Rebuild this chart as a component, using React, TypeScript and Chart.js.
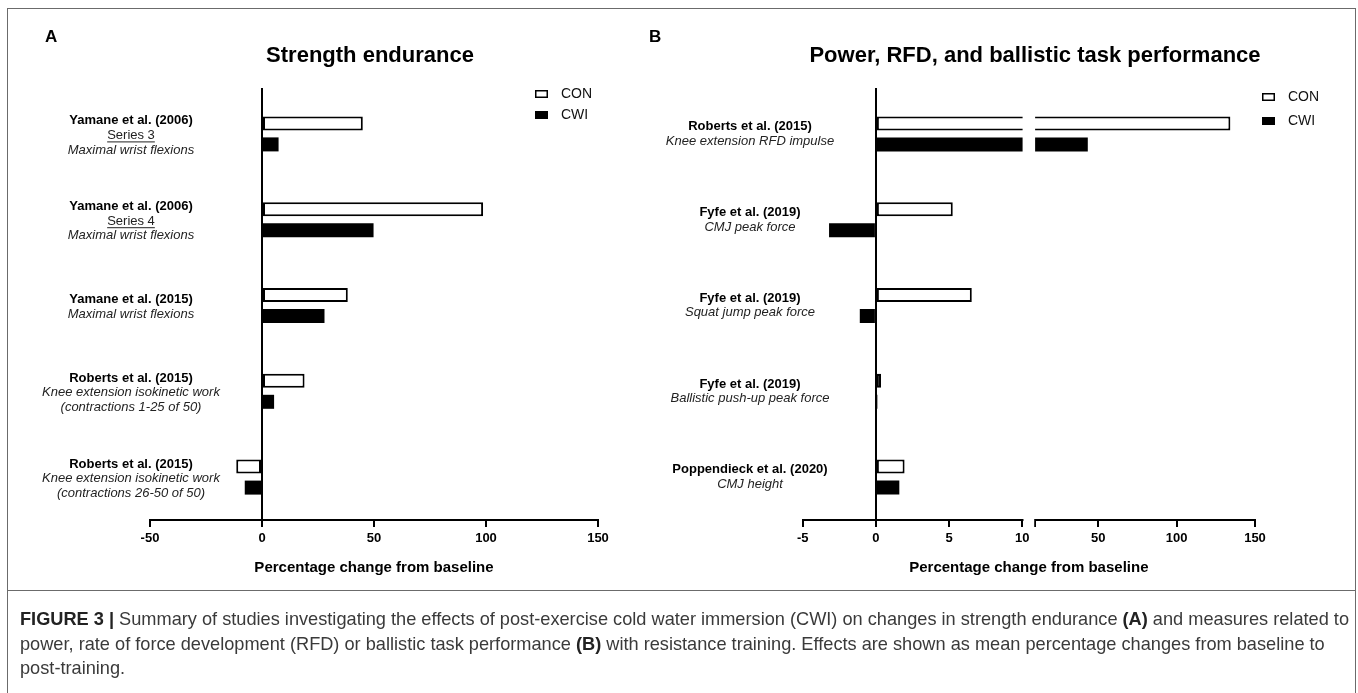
import React, { useEffect, useRef } from "react";
import { Chart, registerables, LinearScale } from "chart.js";

Chart.register(...registerables);

// ---------------- data ----------------
const seriesNames = ["CON", "CWI"];

type Line = { t: string; s: "b" | "u" | "i" };

const categoriesA: Line[][] = [
  [{ t: "Yamane et al. (2006)", s: "b" }, { t: "Series 3", s: "u" }, { t: "Maximal wrist flexions", s: "i" }],
  [{ t: "Yamane et al. (2006)", s: "b" }, { t: "Series 4", s: "u" }, { t: "Maximal wrist flexions", s: "i" }],
  [{ t: "Yamane et al. (2015)", s: "b" }, { t: "Maximal wrist flexions", s: "i" }],
  [{ t: "Roberts et al. (2015)", s: "b" }, { t: "Knee extension isokinetic work", s: "i" }, { t: "(contractions 1-25 of 50)", s: "i" }],
  [{ t: "Roberts et al. (2015)", s: "b" }, { t: "Knee extension isokinetic work", s: "i" }, { t: "(contractions 26-50 of 50)", s: "i" }],
];
const conA = [45.0, 98.7, 38.3, 19.0, -11.5];
const cwiA = [7.4, 49.8, 27.9, 5.4, -7.7];
const ticksA = [-50, 0, 50, 100, 150];

const categoriesB: Line[][] = [
  [{ t: "Roberts et al. (2015)", s: "b" }, { t: "Knee extension RFD impulse", s: "i" }],
  [{ t: "Fyfe et al. (2019)", s: "b" }, { t: "CMJ peak force", s: "i" }],
  [{ t: "Fyfe et al. (2019)", s: "b" }, { t: "Squat jump peak force", s: "i" }],
  [{ t: "Fyfe et al. (2019)", s: "b" }, { t: "Ballistic push-up peak force", s: "i" }],
  [{ t: "Poppendieck et al. (2020)", s: "b" }, { t: "CMJ height", s: "i" }],
];
const conB = [134.3, 5.25, 6.55, 0.35, 1.96];
const cwiB = [43.4, -3.2, -1.1, 0.1, 1.6];
const ticksB = [-5, 0, 5, 10, 50, 100, 150];
// broken axis: segment 1 runs -5..10, segment 2 restarts at 10 and runs to 150
const segment1 = [-5, 10];
const segment2 = [10, 150];
const BREAK_START = 10.000001;

const FONT = '"Liberation Sans", Arial, Helvetica, sans-serif';

// fraction of the axis width at which segment 1 ends and segment 2 starts
const F1 = 0.4855;
const F2 = 0.5145;

class BrokenScale extends LinearScale {
  static id = "broken";
  static defaults = LinearScale.defaults;
  getPixelForValue(value: number) {
    if (value === null || value === undefined || isNaN(value)) return NaN;
    let dec: number;
    if (value <= segment1[1]) dec = ((value - segment1[0]) / (segment1[1] - segment1[0])) * F1;
    else dec = F2 + ((value - segment2[0]) / (segment2[1] - segment2[0])) * (1 - F2);
    return (this as any).getPixelForDecimal(dec);
  }
  getValueForPixel(pixel: number) {
    const dec = (this as any).getDecimalForPixel(pixel);
    if (dec <= F1) return segment1[0] + (dec / F1) * (segment1[1] - segment1[0]);
    return segment2[0] + ((dec - F2) / (1 - F2)) * (segment2[1] - segment2[0]);
  }
  buildTicks() {
    const vals = [...ticksB, BREAK_START].sort((a, b) => a - b);
    return vals.map((v) => ({ value: v }));
  }
}
Chart.register(BrokenScale as any);

type PanelCfg = {
  letter: string;
  letterX: number;
  letterY: number;
  title: string;
  titleX: number;
  titleY: number;
  titleSize: number;
  labelX: number;
  labelDy: number;
  legendX: number;
  legendY: number;
  legendGap: number;
  cats: Line[][];
  broken: boolean;
};

function decorPlugin(cfg: PanelCfg) {
  return {
    id: "decor" + cfg.letter,
    afterDatasetsDraw(chart: any) {
      if (!cfg.broken) return;
      const ctx = chart.ctx;
      const xs = chart.scales.x;
      const a = xs.getPixelForValue(segment1[1]);
      const b = xs.getPixelForValue(BREAK_START);
      const area = chart.chartArea;
      ctx.save();
      ctx.fillStyle = "#fff";
      ctx.fillRect(a + 0.3, area.top, b - a - 0.6, area.bottom - area.top - 1.5);
      ctx.fillRect(a + 1.2, area.bottom - 2, b - a - 2.4, 12);
      ctx.restore();
    },
    afterDraw(chart: any) {
      const ctx = chart.ctx;
      const area = chart.chartArea;
      const ys = chart.scales.y;
      const xs = chart.scales.x;
      ctx.save();
      // y axis continues a little above the plotting area
      ctx.fillStyle = "#000";
      const x0 = Math.round(xs.getPixelForValue(0));
      ctx.fillRect(x0 - 1, area.top - 3, 2, 4);
      ctx.textBaseline = "middle";
      // panel letter
      ctx.font = `bold 17px ${FONT}`;
      ctx.textAlign = "left";
      ctx.fillText(cfg.letter, cfg.letterX, cfg.letterY);
      // title
      ctx.font = `bold ${cfg.titleSize}px ${FONT}`;
      ctx.textAlign = "center";
      ctx.fillText(cfg.title, cfg.titleX, cfg.titleY);
      // axis title
      ctx.font = `bold 15px ${FONT}`;
      ctx.fillText("Percentage change from baseline", (area.left + area.right) / 2, area.bottom + 48);
      // category labels
      const lh = 14.5;
      cfg.cats.forEach((lines, i) => {
        const yc = ys.getPixelForValue(i) + cfg.labelDy;
        const y0 = yc - ((lines.length - 1) * lh) / 2;
        lines.forEach((ln, k) => {
          const yy = y0 + k * lh;
          if (ln.s === "b") {
            ctx.font = `bold 13px ${FONT}`;
            ctx.fillStyle = "#000";
          } else if (ln.s === "i") {
            ctx.font = `italic 13px ${FONT}`;
            ctx.fillStyle = "#222";
          } else {
            ctx.font = `13px ${FONT}`;
            ctx.fillStyle = "#222";
          }
          ctx.fillText(ln.t, cfg.labelX, yy);
          if (ln.s === "u") {
            const w = ctx.measureText(ln.t).width;
            ctx.fillRect(cfg.labelX - w / 2, yy + 6, w, 1);
          }
        });
      });
      // legend
      ctx.textAlign = "left";
      ctx.font = `14px ${FONT}`;
      seriesNames.forEach((name, i) => {
        const ly = cfg.legendY + i * cfg.legendGap;
        if (i === 0) {
          ctx.fillStyle = "#fff";
          ctx.fillRect(cfg.legendX, ly - 4, 13, 8);
          ctx.strokeStyle = "#000";
          ctx.lineWidth = 1.5;
          ctx.strokeRect(cfg.legendX + 0.75, ly - 3.25, 11.5, 6.5);
        } else {
          ctx.fillStyle = "#000";
          ctx.fillRect(cfg.legendX, ly - 4, 13, 8);
        }
        ctx.fillStyle = "#111";
        ctx.fillText(name, cfg.legendX + 26, ly);
      });
      ctx.restore();
    },
  };
}

function makeConfig(
  cats: Line[][],
  con: number[],
  cwi: number[],
  xScale: any,
  padding: any,
  cfg: PanelCfg
) {
  return {
    type: "bar",
    data: {
      labels: cats.map((c) => c[0].t + " " + c[c.length - 1].t),
      datasets: [
        {
          label: seriesNames[0],
          data: con,
          backgroundColor: "#ffffff",
          borderColor: "#000000",
          borderWidth: 2,
          borderSkipped: false,
        },
        {
          label: seriesNames[1],
          data: cwi,
          backgroundColor: "#000000",
          borderColor: "#000000",
          borderWidth: 0,
          borderSkipped: false,
        },
      ],
    },
    options: {
      indexAxis: "y",
      animation: false,
      responsive: false,
      maintainAspectRatio: false,
      devicePixelRatio: 1,
      categoryPercentage: 0.4895,
      barPercentage: 0.667,
      layout: { padding },
      plugins: { legend: { display: false }, tooltip: { enabled: false }, title: { display: false } },
      scales: {
        x: xScale,
        y: {
          type: "category",
          position: { x: 0 },
          offset: true,
          ticks: { display: false },
          grid: { display: false },
          border: { display: true, color: "#000", width: 2 },
        },
      },
    },
    plugins: [decorPlugin(cfg)],
  };
}

const axisCommon = {
  grid: {
    display: true,
    drawOnChartArea: false,
    drawTicks: true,
    tickLength: 7,
    lineWidth: 2,
    color: "#000",
  },
  border: { display: true, color: "#000", width: 2 },
  afterFit: (s: any) => {
    s.height = 40;
  },
};

const H = 590;
const TOP = 91;

function Panel({ left, width, which }: { left: number; width: number; which: "A" | "B" }) {
  const ref = useRef<HTMLCanvasElement | null>(null);
  useEffect(() => {
    if (!ref.current) return;
    let config: any;
    const tickFont = { family: FONT, size: 13, weight: "bold" };
    if (which === "A") {
      const cfg: PanelCfg = {
        letter: "A", letterX: 45 - left, letterY: 37, title: "Strength endurance", titleX: 370 - left, titleY: 56, titleSize: 22,
        labelX: 131 - left, labelDy: 1.5, legendX: 535 - left, legendY: 94, legendGap: 21, cats: categoriesA, broken: false,
      };
      const xScale = {
        type: "linear",
        min: ticksA[0],
        max: ticksA[ticksA.length - 1],
        ...axisCommon,
        afterBuildTicks: (s: any) => {
          s.ticks = ticksA.map((v) => ({ value: v }));
        },
        ticks: { autoSkip: false, maxRotation: 0, padding: 4, color: "#000", font: tickFont },
      };
      config = makeConfig(categoriesA, conA, cwiA, xScale, { left: 150 - left, right: left + width - 598, top: TOP, bottom: H - 520 - 40 }, cfg);
    } else {
      const cfg: PanelCfg = {
        letter: "B", letterX: 649 - left, letterY: 37, title: "Power, RFD, and ballistic task performance", titleX: 1035 - left, titleY: 56, titleSize: 22,
        labelX: 750 - left, labelDy: 0, legendX: 1262 - left, legendY: 97, legendGap: 24, cats: categoriesB, broken: true,
      };
      const xScale = {
        type: "broken",
        min: segment1[0],
        max: segment2[1],
        ...axisCommon,
        ticks: {
          autoSkip: false,
          maxRotation: 0,
          padding: 4,
          color: "#000",
          font: tickFont,
          callback: (v: number) => (v === BREAK_START ? "" : String(v)),
        },
      };
      config = makeConfig(
        categoriesB, conB, cwiB, xScale,
        { left: 802.7 - left, right: left + width - 1255, top: TOP, bottom: H - 520 - 40 },
        cfg
      );
    }
    const chart = new Chart(ref.current, config);
    return () => chart.destroy();
  }, [which, left, width]);
  return (
    <canvas
      ref={ref}
      width={width}
      height={H}
      style={{ position: "absolute", left, top: 0, width, height: H }}
    />
  );
}

export default function App() {
  return (
    <div
      style={{
        position: "fixed",
        left: 0,
        top: 0,
        width: 1358,
        height: 693,
        background: "#fff",
        overflow: "hidden",
        fontFamily: FONT,
      }}
    >
      <Panel left={0} width={630} which="A" />
      <Panel left={630} width={728} which="B" />
      {/* frame */}
      <div style={{ position: "absolute", left: 7, top: 8, width: 1347, height: 700, border: "1.5px solid #6b6b6b", borderBottom: "none" }} />
      <div style={{ position: "absolute", left: 7, top: 590, width: 1348, height: 0, borderTop: "1.5px solid #6b6b6b" }} />
      <div
        style={{
          position: "absolute",
          left: 20,
          top: 607,
          width: 1335,
          fontSize: 18.2,
          lineHeight: "24.5px",
          color: "#3a3a3a",
          whiteSpace: "nowrap",
        }}
      >
        <div>
          <b style={{ color: "#222" }}>FIGURE 3 |</b> Summary of studies investigating the effects of post-exercise cold water immersion (CWI) on changes in strength endurance <b style={{ color: "#222" }}>(A)</b> and measures related to
        </div>
        <div>
          power, rate of force development (RFD) or ballistic task performance <b style={{ color: "#222" }}>(B)</b> with resistance training. Effects are shown as mean percentage changes from baseline to
        </div>
        <div>post-training.</div>
      </div>
    </div>
  );
}
